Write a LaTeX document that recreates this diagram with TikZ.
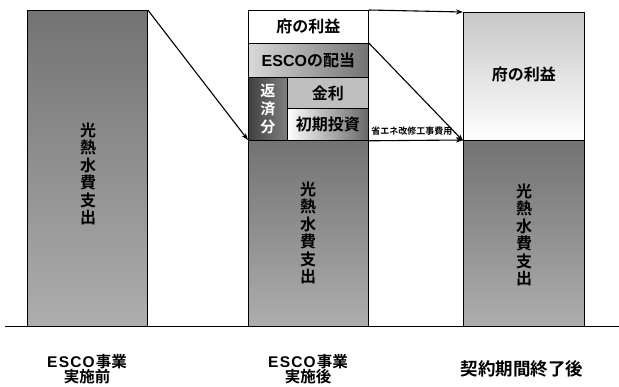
\documentclass[tikz,border=0pt]{standalone}
\usepackage{fontspec}
\setmainfont{Noto Sans CJK JP}[BoldFont={* Bold}]
\newfontfamily\lat{Liberation Sans}
\newcommand\escoword{{\lat\bfseries ESCO}}
\newcommand\escowide{{\lat\bfseries E\kern1.2ptS\kern1.2ptC\kern1.2ptO\kern1pt}}
\usetikzlibrary{arrows.meta}
\begin{document}
\begin{tikzpicture}[x=1pt,y=-1pt,
  box/.style={draw=black,line width=0.8pt,anchor=north west,inner sep=0pt},
  vtext/.style={font=\bfseries\fontsize{16}{17.5}\selectfont,align=center},
  btext/.style={font=\bfseries\fontsize{16}{18}\selectfont},
  conn/.style={line width=1.1pt,-{Stealth[length=7pt,width=5pt]}},
  lbl/.style={font=\bfseries\fontsize{15.5}{15.5}\selectfont,align=center}]
\useasboundingbox (0,0) rectangle (619,387);
% left bar
\node[box,minimum width=120pt,minimum height=316pt,top color=black!55,bottom color=black!32] (lbar) at (27,10) {};
\node[vtext] at (88,174) {光\\熱\\水\\費\\支\\出};
% middle bar
\node[box,minimum width=120pt,minimum height=33pt,fill=white] (mtop) at (248,10) {};
\node[btext] at (mtop.center) {府の利益};
\node[box,minimum width=120pt,minimum height=34pt,left color=black!15,right color=black!55] (esco) at (248,43) {};
\node[btext] at (esco.center) {\escoword の配当};
\node[box,minimum width=39pt,minimum height=63pt,left color=black!75,right color=black!50] (hen) at (248,77) {};
\node[vtext,text=white,font=\bfseries\fontsize{15}{18}\selectfont] at (hen.center) {返\\済\\分};
\node[box,minimum width=81pt,minimum height=31pt,fill=black!25] (kin) at (287,77) {};
\node[btext] at (kin.center) {金利};
\node[box,minimum width=81pt,minimum height=32pt,left color=white,right color=black!60] (sho) at (287,108) {};
\node[btext] at (sho.center) {初期投資};
\node[box,minimum width=120pt,minimum height=186pt,top color=black!55,bottom color=black!32] (mlow) at (248,140) {};
\node[vtext] at (308,233) {光\\熱\\水\\費\\支\\出};
% right bar
\node[box,minimum width=121pt,minimum height=128pt,top color=black!22,bottom color=white] (rtop) at (463,12) {};
\node[btext] at ([yshift=2pt]rtop.center) {府の利益};
\node[box,minimum width=121pt,minimum height=186pt,top color=black!55,bottom color=black!32] (rlow) at (463,140) {};
\node[vtext] at (524,235) {光\\熱\\水\\費\\支\\出};
% baseline
\coordinate (b1) at (5,326);
\coordinate (b2) at (619,326);
\draw[line width=0.9pt] (b1) -- (b2);
% connectors
\draw[conn] (lbar.north east) -- (mlow.north west);
\draw[conn] (mtop.north east) -- (rtop.north west);
\draw[conn] (esco.north east) -- (rtop.south west);
\draw[conn] (sho.south east) -- node[above=1pt,font=\bfseries\fontsize{9}{10}\selectfont,xshift=-4pt]{省エネ改修工事費用} (rlow.north west);
% labels
\node[lbl] (l1) at (87,369) {\escowide 事業\\実施前};
\node[lbl] (l2) at (308,369) {\escowide 事業\\実施後};
\node[lbl,font=\bfseries\fontsize{17.5}{18}\selectfont] (l3) at (522,369) {契約期間終了後};
\end{tikzpicture}
\end{document}
